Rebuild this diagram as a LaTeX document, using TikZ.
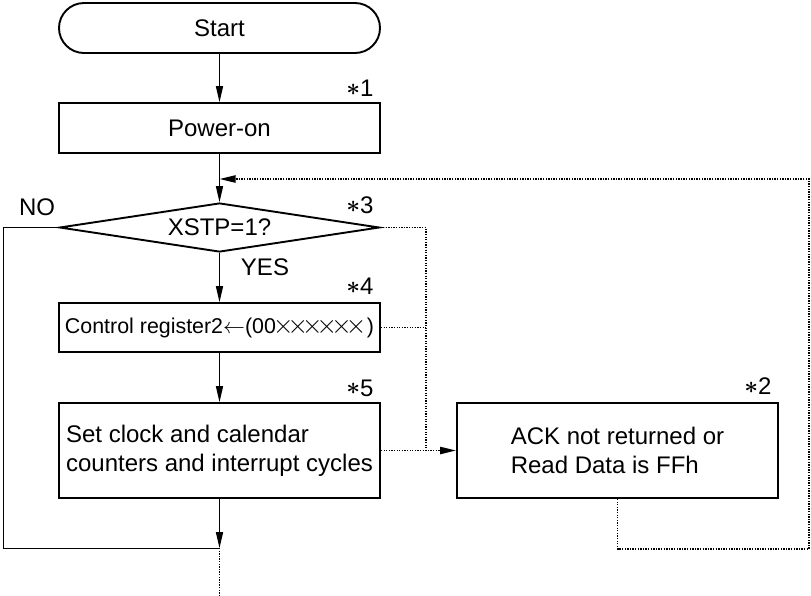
\documentclass[tikz,border=0pt]{standalone}
\usepackage{amsmath}
\usepackage{graphicx}
\usepackage{fontspec}
\setmainfont{Liberation Sans}
\usepackage{tikz}
\usetikzlibrary{positioning,arrows.meta,shapes.geometric}
\newcommand{\xbit}{\makebox[0.68em]{\scalebox{1.2}{$\times$}}}
\newcommand{\fn}[1]{\raisebox{0.6pt}{$\boldsymbol{\ast}$}#1}

\begin{document}
\begin{tikzpicture}[
  x=0.5pt, y=-0.5pt, font=\fontsize{12}{14.5}\selectfont,
  blk/.style={draw, line width=0.95pt, minimum width=160.5pt, minimum height=25pt, align=center, inner sep=2pt},
  term/.style={blk, rounded corners=12.5pt},
  proc/.style={blk},
  dec/.style={blk, diamond, aspect=6.5, minimum width=160pt, minimum height=24.5pt, inner sep=0pt},
  arr/.style={-{Triangle[length=8pt, width=3.6pt]}, line width=0.5pt},
  dots/.style={line width=0.85pt, dash pattern=on 0.65pt off 0.65pt},
  dotarr/.style={dots, -{Triangle[length=8pt, width=3.6pt]}},
  note/.style={inner sep=0pt}]
\useasboundingbox (0,0) rectangle (811,596);
% main column
\node[term] (start) at (219.5,28) {Start};
\node[proc] (power) at (219.5,128) {Power-on};
\node[dec] (test) at (219.5,227.5) {XSTP=1?};
\node[proc, minimum height=24.5pt, font=\fontsize{10.7}{13}\selectfont] (ctrl) at (219.5,327.5)
  {Control register2$\leftarrow$(00\xbit\xbit\xbit\xbit\xbit\xbit\,)};
\node[proc, minimum height=47.5pt, align=left] (setclk) at (219.5,450.5) {Set clock and calendar\\counters and interrupt cycles};
\node[proc, minimum height=47.5pt, align=left] (ack) at (617.5,450.5) {ACK not returned or\\Read Data is FFh};
\coordinate (join) at (219.5,548);
\coordinate (out) at (219.5,596);
\coordinate (nox) at (3,227.5);
\coordinate (bus) at (426,227.5);
\coordinate (loopB) at (809,549);
\coordinate (loopT) at (809,179);
% notes
\node[note] (n1) at (360,88) {\fn{1}};
\node[note] (n3) at (360,205) {\fn{3}};
\node[note] (n4) at (360,286) {\fn{4}};
\node[note] (n5) at (360,388) {\fn{5}};
\node[note] (n2) at (758,386) {\fn{2}};
\node[note] (no) at (37,207) {NO};
\node[note] (yes) at (265,267) {YES};
% flow
\draw[arr] (start) -- (power);
\draw[arr] (power) -- (test);
\draw[arr] (test) -- (ctrl);
\draw[arr] (ctrl) -- (setclk);
\draw[arr] (setclk) -- (join);
\draw[line width=0.5pt] (test.west) -- (nox) |- (join);
\draw[dots] (join) -- (out);
% error path
\draw[dotarr] (test.east) -- (bus) |- (ack.west);
\draw[dots] (ctrl.east) -- (ctrl.east -| bus);
\draw[dots] (setclk.east) -- (setclk.east -| bus);
\draw[dotarr] (ack.south) |- (loopB) -- (loopT) -- (loopT -| power.south);
\end{tikzpicture}
\end{document}
